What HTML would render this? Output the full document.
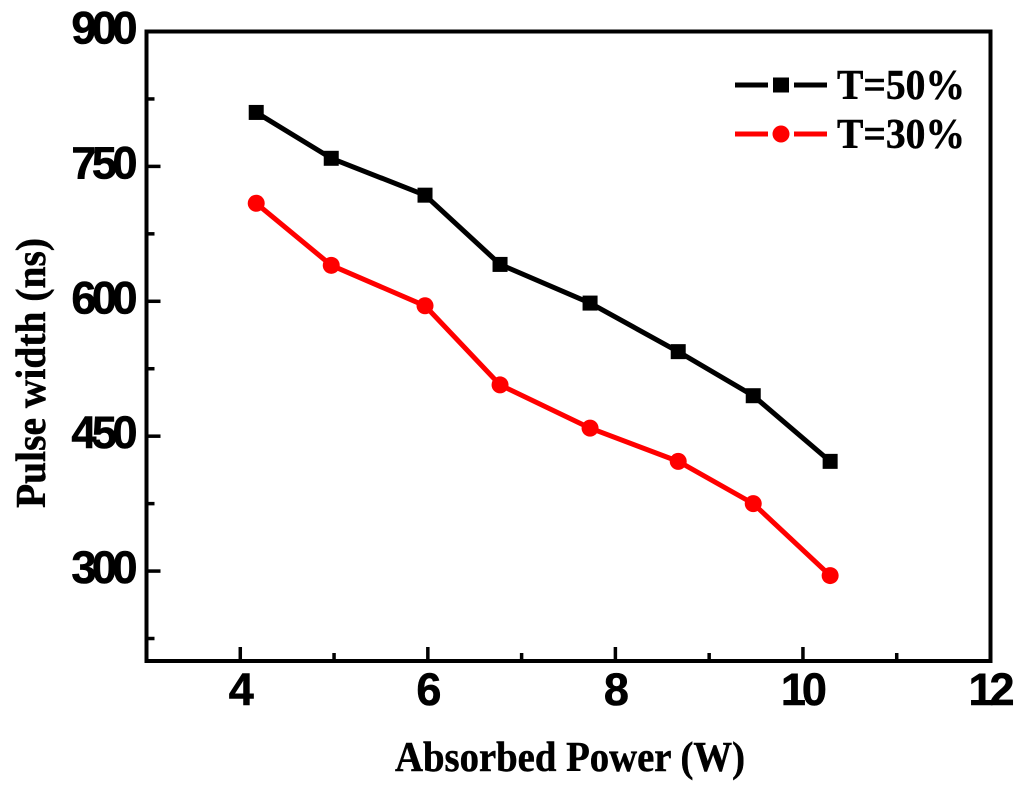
<!DOCTYPE html>
<html>
<head>
<meta charset="utf-8">
<style>
html,body{margin:0;padding:0;background:#fff;width:1024px;height:791px;overflow:hidden}
svg{display:block}
.num{font-family:"Liberation Sans",sans-serif;font-weight:bold;font-size:45px;fill:#000;stroke:#000;stroke-width:.6}
.ttl{font-family:"Liberation Serif",serif;font-weight:bold;font-size:42px;fill:#000;stroke:#000;stroke-width:.5}
</style>
</head>
<body>
<svg id="chart" width="1024" height="791" viewBox="0 0 1024 791" xmlns="http://www.w3.org/2000/svg"></svg>
<script>
const absorbedPower = [4.17, 4.97, 5.97, 6.77, 7.73, 8.67, 9.47, 10.29];
const pulseT50 = [810, 759, 718, 641, 598, 544, 495, 422];
const pulseT30 = [709, 640, 595, 507, 459, 422, 375, 295];
const xMajorTicks = [4, 6, 8, 10, 12];
const xMinorTicks = [5, 7, 9, 11];
const yMajorTicks = [300, 450, 600, 750, 900];
const yMinorTicks = [225, 375, 525, 675, 825];
const xDomain = [3, 12];
const yDomain = [200, 900];

const svg = document.getElementById('chart');
const NS = 'http://www.w3.org/2000/svg';
const plot = {l: 146.5, r: 990.5, t: 31.5, b: 661};
const xS = v => plot.l + (v - xDomain[0]) / (xDomain[1] - xDomain[0]) * (plot.r - plot.l);
const yS = v => plot.b - (v - yDomain[0]) / (yDomain[1] - yDomain[0]) * (plot.b - plot.t);

function make(tag, attrs, text) {
  const el = document.createElementNS(NS, tag);
  for (const k in attrs) el.setAttribute(k, attrs[k]);
  if (text !== undefined) el.textContent = text;
  svg.appendChild(el);
  return el;
}

let el;
el = make('rect', {x: plot.l, y: plot.t, width: plot.r - plot.l, height: plot.b - plot.t, fill: 'none', stroke: '#000', 'stroke-width': 4});



xMajorTicks.slice(0, -1).forEach(v => {
  const t = make('line', {x1: xS(v), x2: xS(v), y1: plot.b, y2: plot.b - 14, stroke: '#000', 'stroke-width': 3.5});
  
  
});
xMinorTicks.forEach(v => {
  const t = make('line', {x1: xS(v), x2: xS(v), y1: plot.b, y2: plot.b - 8, stroke: '#000', 'stroke-width': 3.5});
  
  
});
yMajorTicks.slice(0, -1).forEach(v => {
  const t = make('line', {x1: plot.l, x2: plot.l + 14, y1: yS(v), y2: yS(v), stroke: '#000', 'stroke-width': 3.5});
  
  
});
yMinorTicks.forEach(v => {
  const t = make('line', {x1: plot.l, x2: plot.l + 8, y1: yS(v), y2: yS(v), stroke: '#000', 'stroke-width': 3.5});
  
  
});

xMajorTicks.forEach(v => {
  const t = make('text', {x: xS(v) - 1, y: 705, 'text-anchor': 'middle', class: 'num', 'letter-spacing': '-4'}, String(v));
  
  
});
yMajorTicks.forEach(v => {
  const t = make('text', {x: 133, y: yS(v) + 12, 'text-anchor': 'end', class: 'num', 'letter-spacing': '-4.5'}, String(v));
  
  
});

function series(values, color, name, marker) {
  const pts = absorbedPower.map((x, i) => xS(x) + ',' + yS(values[i])).join(' ');
  const line = make('polyline', {points: pts, fill: 'none', stroke: color, 'stroke-width': 5, 'stroke-linejoin': 'round'});
  
  
  absorbedPower.forEach((x, i) => {
    const cx = xS(x), cy = yS(values[i]);
    const m = marker === 'square'
      ? make('rect', {x: cx - 7.5, y: cy - 7.5, width: 15, height: 15, fill: color})
      : make('circle', {cx: cx, cy: cy, r: 8.5, fill: color});
    
    
  });
}
series(pulseT50, '#000', 't50', 'square');
series(pulseT30, '#f00', 't30', 'circle');

el = make('line', {x1: 735, x2: 768, y1: 85, y2: 85, stroke: '#000', 'stroke-width': 5});


el = make('line', {x1: 794, x2: 827, y1: 85, y2: 85, stroke: '#000', 'stroke-width': 5});


el = make('rect', {x: 773, y: 77.5, width: 16, height: 15, fill: '#000'});


el = make('text', {x: 837, y: 99, class: 'ttl', textLength: 128, lengthAdjust: 'spacingAndGlyphs'}, 'T=50%');



el = make('line', {x1: 735, x2: 768, y1: 134, y2: 134, stroke: '#f00', 'stroke-width': 5});


el = make('line', {x1: 794, x2: 827, y1: 134, y2: 134, stroke: '#f00', 'stroke-width': 5});


el = make('circle', {cx: 781, cy: 134, r: 8.5, fill: '#f00'});


el = make('text', {x: 837, y: 148, class: 'ttl', textLength: 128, lengthAdjust: 'spacingAndGlyphs'}, 'T=30%');



el = make('text', {x: 395, y: 771, class: 'ttl', textLength: 350, lengthAdjust: 'spacingAndGlyphs'}, 'Absorbed Power (W)');


el = make('text', {x: 0, y: 0, class: 'ttl', transform: 'translate(45,508) rotate(-90)', textLength: 270, lengthAdjust: 'spacingAndGlyphs'}, 'Pulse width (ns)');


</script>
</body>
</html>
